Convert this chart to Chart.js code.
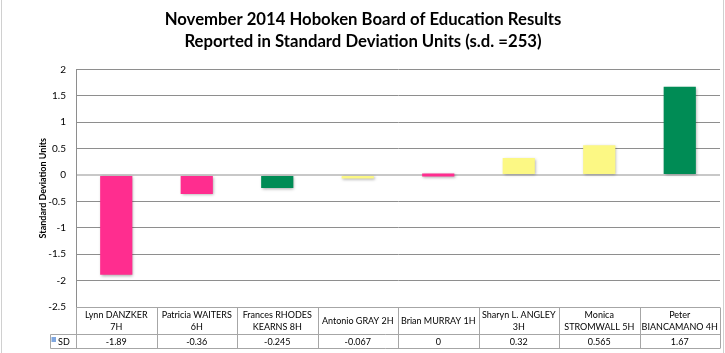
<!DOCTYPE html>
<html>
<head>
<meta charset="utf-8">
<script src="https://cdn.jsdelivr.net/npm/chart.js@4/dist/chart.umd.min.js"></script>
<style>
  html, body { margin: 0; padding: 0; background: #fff; }
  canvas { display: block; }
</style>
</head>
<body>
<canvas id="sdChart" width="725" height="353"></canvas>
<script>
// Chart data
const categories = [
  ['Lynn DANZKER', '7H'],
  ['Patricia WAITERS', '6H'],
  ['Frances RHODES', 'KEARNS 8H'],
  ['Antonio GRAY 2H'],
  ['Brian MURRAY 1H'],
  ['Sharyn L. ANGLEY', '3H'],
  ['Monica', 'STROMWALL 5H'],
  ['Peter', 'BIANCAMANO 4H']
];
const sdValues = [-1.89, -0.36, -0.245, -0.067, 0, 0.32, 0.565, 1.67];
const barColors = ['#FF2D8F', '#FF2D8F', '#008C55', '#FCF884', '#FF2D8F', '#FCF884', '#FCF884', '#008C55'];
const seriesName = 'SD';
const titleLines = [
  'November 2014 Hoboken Board of Education Results',
  'Reported in Standard Deviation Units (s.d. =253)'
];

const FONT = 'Lato, "Open Sans", sans-serif';

document.addEventListener('DOMContentLoaded', function () {
  const canvas = document.getElementById('sdChart');
  const ctx = canvas.getContext('2d');

  // Soft drop shadow under the bars, like the Excel original
  const barShadow = {
    id: 'barShadow',
    beforeDatasetsDraw(chart) {
      const c = chart.ctx;
      c.save();
      c.shadowColor = 'rgba(0,0,0,0.35)';
      c.shadowBlur = 3;
      c.shadowOffsetX = 1;
      c.shadowOffsetY = 1;
    },
    afterDatasetsDraw(chart) {
      chart.ctx.restore();
    }
  };

  // Data table under the plot (category names + values)
  const dataTable = {
    id: 'dataTable',
    afterDraw(chart) {
      const c = chart.ctx;
      const x = chart.scales.x;
      const area = chart.chartArea;
      const top = Math.round(area.bottom) + 0.5;
      const mid = 334.5;
      const bottom = 348.5;
      const keyLeft = 50.5;
      const step = (area.right - area.left) / categories.length;

      c.save();
      c.strokeStyle = '#a6a6a6';
      c.lineWidth = 1;
      c.beginPath();
      c.moveTo(area.left, top); c.lineTo(area.right, top);
      c.moveTo(keyLeft, mid); c.lineTo(area.right, mid);
      c.moveTo(keyLeft, bottom); c.lineTo(area.right, bottom);
      c.moveTo(keyLeft, mid); c.lineTo(keyLeft, bottom);
      for (let i = 0; i <= categories.length; i++) {
        const px = Math.round(area.left + i * step) + 0.5;
        c.moveTo(px, top); c.lineTo(px, bottom);
      }
      c.stroke();

      c.fillStyle = '#000';
      c.font = '9px ' + FONT;
      c.textAlign = 'center';
      c.textBaseline = 'middle';
      categories.forEach(function (lines, i) {
        const cx = x.getPixelForValue(i);
        const lh = 12;
        const y0 = (top + mid) / 2 - (lines.length - 1) * lh / 2;
        lines.forEach(function (t, j) { c.fillText(t, cx, y0 + j * lh); });
        c.fillText(String(sdValues[i]), cx, (mid + bottom) / 2 + 0.5);
      });

      // legend key
      c.fillStyle = '#7FA7E0';
      c.fillRect(51.5, 337, 4.5, 5);
      c.fillStyle = '#000';
      c.textAlign = 'left';
      c.fillText(seriesName, 58, (mid + bottom) / 2 + 0.5);

      // outer sheet edges
      c.strokeStyle = '#d0d0d0';
      c.beginPath();
      c.moveTo(1.5, 0); c.lineTo(1.5, 353);
      c.moveTo(723.5, 0); c.lineTo(723.5, 353);
      c.stroke();
      c.restore();
    }
  };

  new Chart(ctx, {
    type: 'bar',
    data: {
      labels: categories.map(function (l) { return l.join(' '); }),
      datasets: [{
        label: seriesName,
        data: sdValues,
        backgroundColor: barColors,
        borderWidth: 0,
        barPercentage: 0.4,
        categoryPercentage: 1,
        minBarLength: 3
      }]
    },
    options: {
      responsive: false,
      animation: false,
      layout: { padding: { left: 6, right: 5, top: 0, bottom: 46 } },
      plugins: {
        legend: { display: false },
        tooltip: { enabled: false },
        title: {
          display: true,
          text: titleLines,
          color: '#000',
          font: { family: FONT, size: 16.7, weight: 'bold', lineHeight: 1.3 },
          padding: { top: 9, bottom: 17 }
        }
      },
      scales: {
        x: { display: false },
        y: {
          min: -2.5,
          max: 2,
          afterFit: function (s) { s.width = 70; },
          ticks: {
            stepSize: 0.5,
            color: '#000',
            padding: 10,
            font: { family: FONT, size: 10 },
            callback: function (value) { return String(value); }
          },
          grid: {
            drawTicks: false,
            color: function (c) { return c.tick && c.tick.value === 0 ? '#c8c8c8' : '#8e8e8e'; },
            lineWidth: function (c) { return c.tick && c.tick.value === 0 ? 2 : 1; }
          },
          border: { display: true, color: '#8e8e8e' },
          title: {
            display: true,
            text: 'Standard Deviation Units',
            color: '#000',
            font: { family: FONT, size: 9, weight: 'bold' },
            padding: { top: 32, bottom: 0 }
          }
        }
      }
    },
    plugins: [barShadow, dataTable]
  });
});
</script>
</body>
</html>
